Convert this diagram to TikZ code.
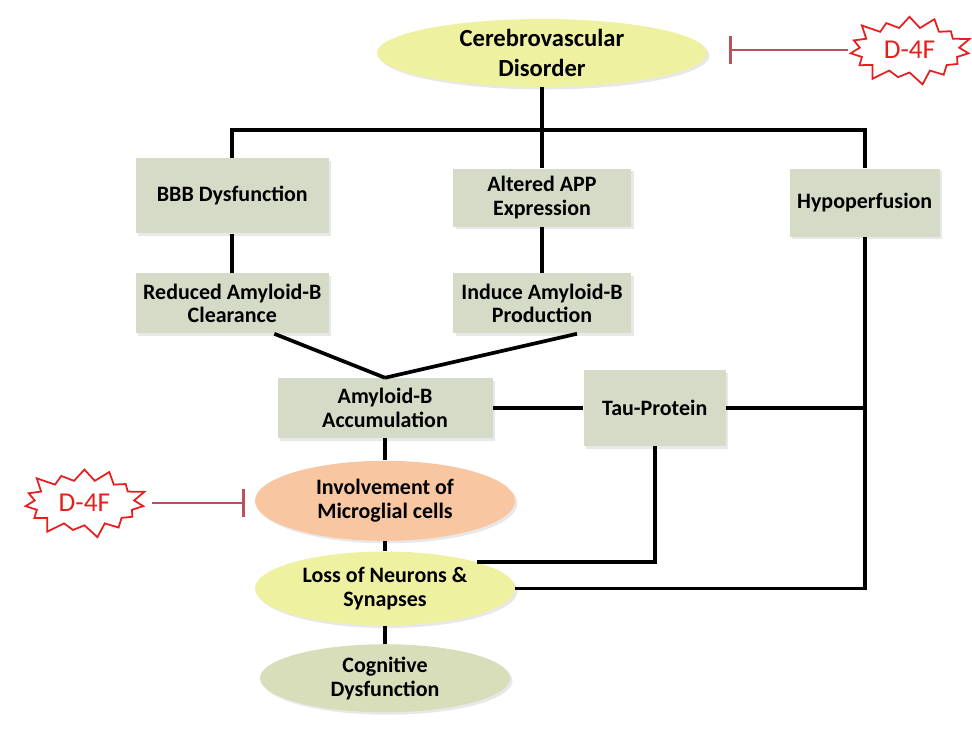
\documentclass[tikz,border=0pt]{standalone}
\usepackage{fontspec}
\setmainfont{Carlito}
\usetikzlibrary{shapes.geometric, shapes.symbols, arrows.meta, positioning, shadows}
\definecolor{boxgray}{RGB}{214,219,200}
\definecolor{paleyellow}{RGB}{238,241,160}
\definecolor{peach}{RGB}{248,198,160}
\definecolor{sage}{RGB}{216,222,186}
\definecolor{inhibitred}{RGB}{185,82,92}
\definecolor{starred}{RGB}{232,30,30}
\tikzstyle{boxnode} = [
  rectangle, fill=boxgray, text centered, align=center,
  inner sep=2pt, font=\fontsize{12.5}{13.6}\selectfont\bfseries,
  drop shadow={opacity=0.18, shadow xshift=0.05cm, shadow yshift=-0.05cm}
]
\tikzstyle{ellnode} = [
  ellipse, text centered, align=center, inner sep=0pt,
  font=\fontsize{12.5}{13.6}\selectfont\bfseries,
  drop shadow={opacity=0.18, shadow xshift=0.05cm, shadow yshift=-0.05cm}
]
\tikzstyle{link} = [line width=2.1pt, black]
\tikzstyle{inhibit} = [line width=1.2pt, inhibitred, -{Bar[width=0.56cm, line width=1.6pt]}]
\begin{document}
\begin{tikzpicture}

\tikzstyle{starnode} = [starburst, starburst points=15, starburst point height=0.3cm, draw=starred, line width=1pt, fill=white, text=starred, minimum width=2.6cm, minimum height=1.5cm, inner sep=0pt, font=\fontsize{15.5}{16}\selectfont]

\useasboundingbox (0,0) rectangle (19.44,-15.04);

% Nodes
\node (cere) [ellnode, fill=paleyellow, minimum width=6.6cm, minimum height=1.36cm, font=\fontsize{14}{17}\selectfont\bfseries] at (10.84,-1.06) {Cerebrovascular\\ Disorder};
\node (altered) [boxnode, minimum width=3.56cm, minimum height=1.16cm, below=1.62cm of cere] {Altered APP\\ Expression};
\node (induce) [boxnode, minimum width=3.56cm, minimum height=1.2cm, below=0.92cm of altered] {Induce Amyloid-B\\ Production};
\node (bbb) [boxnode, minimum width=3.86cm, minimum height=1.5cm, left=2.47cm of altered, yshift=0.04cm] {BBB Dysfunction};
\node (reduced) [boxnode, minimum width=3.86cm, minimum height=1.2cm, below=0.79cm of bbb] {Reduced Amyloid-B\\ Clearance};
\node (hypo) [boxnode, minimum width=3cm, minimum height=1.36cm, right=3.16cm of altered, yshift=-0.1cm] {Hypoperfusion};
\node (amyloid) [boxnode, minimum width=4.3cm, minimum height=1.2cm, below=0.88cm of induce, xshift=-3.14cm] {Amyloid-B\\ Accumulation};
\node (tau) [boxnode, minimum width=2.84cm, minimum height=1.52cm, right=1.81cm of amyloid] {Tau-Protein};
\node (microglia) [ellnode, fill=peach, minimum width=5.2cm, minimum height=1.6cm, below=0.44cm of amyloid] {Involvement of\\ Microglial cells};
\node (loss) [ellnode, fill=paleyellow, minimum width=5.2cm, minimum height=1.48cm, below=0.2cm of microglia] {Loss of Neurons \&\\ Synapses};
\node (cognitive) [ellnode, fill=sage, minimum width=5cm, minimum height=1.36cm, below=0.36cm of loss] {Cognitive\\ Dysfunction};
\node (d4ftop) [starnode, right=2.94cm of cere, yshift=0.06cm] {D-4F};
\node (d4fleft) [starnode, left=2.3cm of microglia, yshift=-0.04cm] {D-4F};
\coordinate (bus) at (10.84,-2.6);

% Connectors
\draw [link] (bbb.north) |- (bus) -| (hypo.north);
\draw [link] (cere) -- (altered);
\draw [link] (bbb) -- (reduced);
\draw [link] (altered) -- (induce);
\draw [link] ([xshift=0.84cm]reduced.south) -- (amyloid.north);
\draw [link] ([xshift=0.7cm]induce.south) -- (amyloid.north);
\draw [link] (amyloid) -- (tau);
\draw [link] (tau.east) -- (tau.east -| hypo.south);
\draw [link] (hypo.south) |- (loss.east);
\draw [link] (tau.south) |- (loss.north east);
\draw [link] (amyloid) -- (microglia);
\draw [link] (microglia) -- (loss);
\draw [link] (loss) -- (cognitive);

% Inhibition
\draw [inhibit, shorten <=0.12cm, shorten >=0.44cm] (d4ftop.west) -- (d4ftop.west -| cere.east);
\draw [inhibit, shorten <=0.24cm, shorten >=0.2cm] (d4fleft.east) -- (d4fleft.east -| microglia.west);

\end{tikzpicture}
\end{document}
